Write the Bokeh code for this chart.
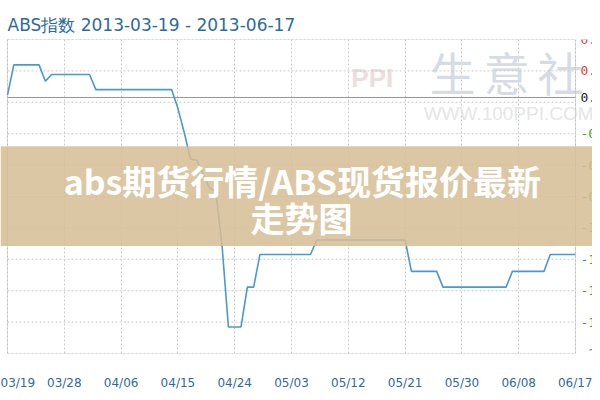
from bokeh.plotting import figure
from bokeh.models import FixedTicker, Label, BoxAnnotation, ColumnDataSource
from bokeh.embed import file_html
from bokeh.resources import INLINE

# ---- data ----
title_text = "ABS指数 2013-03-19 - 2013-06-17"
x_tick_days = [0, 9, 18, 27, 36, 45, 54, 63, 72, 81, 90]
x_tick_labels = ["03/19", "03/28", "04/06", "04/15", "04/24", "05/03",
                 "05/12", "05/21", "05/30", "06/08", "06/17"]
y_grid_values = [0.48, 0.22, -0.04, -0.30, -0.56, -0.82, -1.08, -1.34, -1.60, -1.86, -2.12]
y_red_labels = ["0.48", "0.22"]
y_red_values = [0.48, 0.22]
y_zero_label = "0.00"
y_green_labels = ["-0.30", "-0.56", "-0.82", "-1.08", "-1.34", "-1.60", "-1.86", "-2.12"]
y_green_values = [-0.30, -0.56, -0.82, -1.08, -1.34, -1.60, -1.86, -2.12]

# daily index change (%), 03/19 .. 06/17
abs_index = [
    0.02, 0.27, 0.27, 0.27, 0.27, 0.27, 0.135, 0.19, 0.19, 0.19,
    0.19, 0.19, 0.19, 0.19, 0.065, 0.065, 0.065, 0.065, 0.065, 0.065,
    0.065, 0.065, 0.065, 0.065, 0.065, 0.065, 0.065, -0.09, -0.29, -0.51,
    -0.52, -0.63, -0.75, -0.78, -1.23, -1.90, -1.90, -1.90, -1.57, -1.57,
    -1.30, -1.30, -1.30, -1.30, -1.30, -1.30, -1.30, -1.30, -1.30, -1.18,
    -1.18, -1.18, -1.18, -1.18, -1.18, -1.18, -1.18, -1.18, -1.18, -1.18,
    -1.18, -1.18, -1.18, -1.18, -1.44, -1.44, -1.44, -1.44, -1.44, -1.57,
    -1.57, -1.57, -1.57, -1.57, -1.57, -1.57, -1.57, -1.57, -1.57, -1.57,
    -1.44, -1.44, -1.44, -1.44, -1.44, -1.44, -1.30, -1.30, -1.30, -1.30,
    -1.30,
]
days = list(range(len(abs_index)))

overlay_line1 = "abs期货行情/ABS现货报价最新"
overlay_line2 = "走势图"
watermark_chars = ["生", "意", "社"]
watermark_url = "WWW.100PPI.COM"

src = ColumnDataSource(dict(day=days, v=abs_index))

d0, d1 = x_tick_days[0], x_tick_days[-1]
ytop, ybot = y_grid_values[0], y_grid_values[-1]

p = figure(width=592, height=392, x_range=(-1.11, 92.69), y_range=(ybot, ytop),
           output_backend="svg", toolbar_location=None, y_axis_location=None,
           min_border_left=0, min_border_right=0, min_border_top=39, min_border_bottom=32)
p.background_fill_color = "white"
p.border_fill_color = "white"
p.outline_line_color = None

# title
p.title.text = title_text
p.title.align = "left"
p.title.offset = 7
p.title.text_font = "DejaVu Sans"
p.title.text_font_style = "normal"
p.title.text_font_size = "17px"
p.title.text_color = "#2d6b9c"

# vertical grid
p.xgrid.ticker = FixedTicker(ticks=x_tick_days)
p.xgrid.grid_line_color = "#cccccc"
p.xgrid.grid_line_dash = "2 2"
p.ygrid.visible = False

# horizontal grid, limited to the plot box
n = len(y_grid_values)
p.segment(x0=[d0] * n, x1=[d1] * n, y0=y_grid_values, y1=y_grid_values,
          line_color="#cccccc", line_dash="2 2", line_width=1)
# zero line
p.segment(x0=[d0], x1=[d1], y0=[0], y1=[0], line_color="#999999", line_width=1)

# x axis
xa = p.xaxis[0]
xa.ticker = FixedTicker(ticks=x_tick_days)
xa.major_label_overrides = {d: l for d, l in zip(x_tick_days, x_tick_labels)}
xa.axis_line_color = None
xa.major_tick_line_color = None
xa.minor_tick_line_color = None
xa.major_label_text_color = "#2d6b9c"
xa.major_label_text_font = "DejaVu Sans"
xa.major_label_text_font_size = "12px"
xa.major_label_standoff = 16

# watermark
for xc, ch in zip([70.5, 79.1, 87.6], watermark_chars):
    p.add_layout(Label(x=xc, y=0.22, text=ch, text_font="Noto Sans CJK SC",
                       text_font_size="46px", text_color="#d5dce6", text_align="center",
                       text_baseline="middle", level="underlay"))
p.add_layout(Label(x=79.4, y=-0.136, text=watermark_url, text_font="Liberation Sans",
                   text_font_size="19px", text_color="#e6e6e6", text_align="center",
                   text_baseline="middle", level="underlay"))
p.add_layout(Label(x=57.8, y=0.16, text="PPI", text_font="Liberation Sans",
                   text_font_style="bold", text_font_size="26px", text_color="#eedddd",
                   text_align="center", text_baseline="middle", level="underlay"))

# series line
p.line("day", "v", source=src, line_color="#4a98d0", line_width=1.6)

# plot box
p.add_layout(BoxAnnotation(left=d0, right=d1, top=ytop, bottom=ybot,
                           fill_alpha=0, line_color="#9a9a9a", line_width=1))

# y labels on the right (cut by the page edge as in the reference)
for v, t in zip(y_red_values, y_red_labels):
    p.add_layout(Label(x=d1, y=v, text=t, x_offset=5, text_baseline="middle",
                       text_font="DejaVu Sans Mono", text_font_size="13px", text_color="#e33b3b"))
p.add_layout(Label(x=d1, y=0, text=y_zero_label, x_offset=5, text_baseline="middle",
                   text_font="DejaVu Sans Mono", text_font_size="13px", text_color="#222222"))
for v, t in zip(y_green_values, y_green_labels):
    p.add_layout(Label(x=d1, y=v, text=t, x_offset=5, text_baseline="middle",
                       text_font="DejaVu Sans Mono", text_font_size="13px", text_color="#3aa335"))

# overlay band
p.add_layout(BoxAnnotation(top=-0.403, bottom=-1.229,
                           fill_color="#d6bd94", fill_alpha=0.85, line_color=None,
                           level="overlay"))
p.add_layout(Label(x=46.6, y=-0.686, text=overlay_line1, text_align="center",
                   text_baseline="middle", text_font="Noto Sans CJK SC",
                   text_font_style="bold", text_font_size="34px", text_color="white",
                   level="overlay"))
p.add_layout(Label(x=46.6, y=-0.994, text=overlay_line2, text_align="center",
                   text_baseline="middle", text_font="Noto Sans CJK SC",
                   text_font_style="bold", text_font_size="34px", text_color="white",
                   level="overlay"))

open("out.html", "w").write(file_html(p, INLINE))
